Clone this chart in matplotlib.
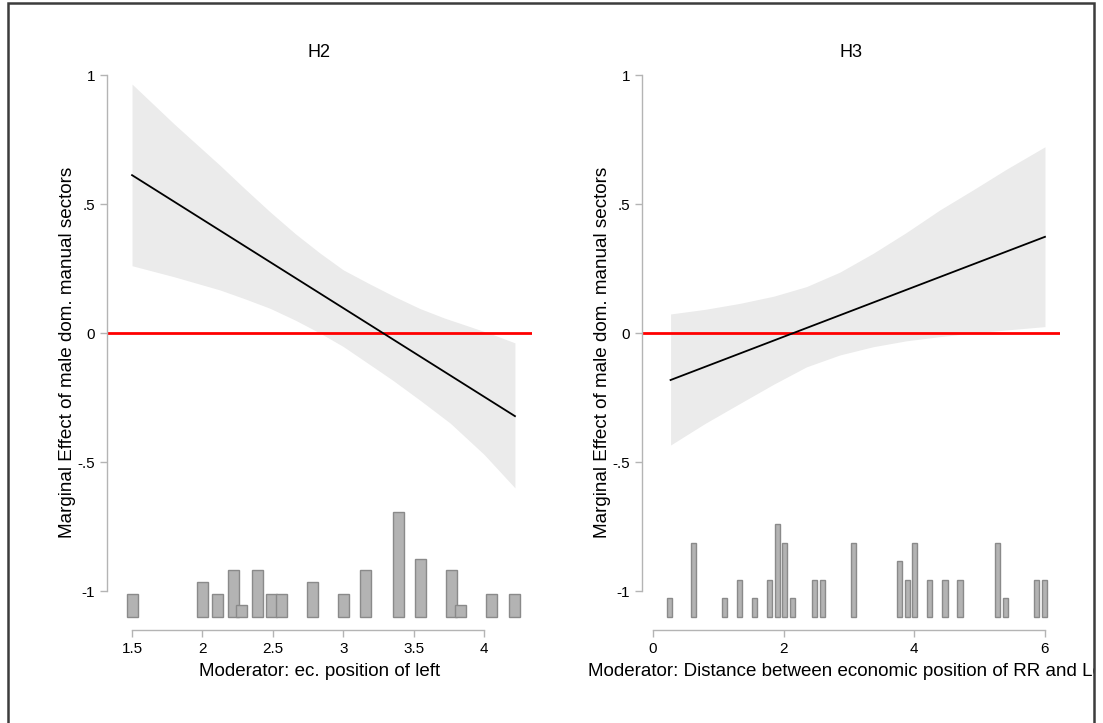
import numpy as np
import matplotlib
matplotlib.use("Agg")
import matplotlib.pyplot as plt
from matplotlib.patches import Rectangle

plt.rcParams['font.family'] = ['Liberation Sans', 'DejaVu Sans']

# ---- H2: moderator = ec. position of left ----
h2_line_x = [1.5, 4.22]
h2_line_y = [0.612, -0.322]
h2_upper_x = [1.5, 1.8, 2.125, 2.3, 2.48, 2.66, 2.835, 3.0, 3.19, 3.37,
              3.545, 3.72, 3.90, 4.06, 4.22]
h2_upper_y = [0.965, 0.810, 0.650, 0.560, 0.470, 0.385, 0.310, 0.245, 0.190,
              0.140, 0.095, 0.058, 0.025, -0.005, -0.038]
h2_lower_x = [1.5, 1.8, 2.125, 2.3, 2.48, 2.66, 2.835, 3.0, 3.143, 3.35,
              3.55, 3.76, 4.0, 4.22]
h2_lower_y = [0.261, 0.218, 0.167, 0.133, 0.096, 0.050, 0.0, -0.052, -0.105,
              -0.182, -0.262, -0.349, -0.470, -0.600]
h2_bar_x = [1.50, 2.00, 2.11, 2.22, 2.28, 2.39, 2.49, 2.56, 2.78, 3.00,
            3.16, 3.39, 3.55, 3.77, 3.83, 4.05, 4.22]
h2_bar_n = [2, 3, 2, 4, 1, 4, 2, 2, 3, 2, 4, 9, 5, 4, 1, 2, 2]
h2_xticks = [1.5, 2, 2.5, 3, 3.5, 4]
h2_xticklabels = ['1.5', '2', '2.5', '3', '3.5', '4']

# ---- H3: moderator = distance RR / Left ----
h3_line_x = [0.27, 6.0]
h3_line_y = [-0.182, 0.373]
h3_upper_x = [0.27, 0.8, 1.33, 1.85, 2.35, 2.86, 3.37, 3.88, 4.39, 4.9, 5.41, 6.0]
h3_upper_y = [0.074, 0.092, 0.115, 0.143, 0.180, 0.236, 0.309, 0.390, 0.477,
              0.555, 0.635, 0.722]
h3_lower_x = [0.27, 0.8, 1.33, 1.85, 2.35, 2.86, 3.37, 3.88, 4.39, 4.9, 5.41, 6.0]
h3_lower_y = [-0.434, -0.350, -0.273, -0.198, -0.131, -0.085, -0.053, -0.030,
              -0.014, 0.0, 0.012, 0.025]
h3_bar_x = [0.26, 0.62, 1.09, 1.32, 1.55, 1.78, 1.90, 2.02, 2.13, 2.48, 2.60,
            3.07, 3.77, 3.89, 4.00, 4.24, 4.47, 4.70, 5.28, 5.40, 5.87, 5.99]
h3_bar_n = [1, 4, 1, 2, 1, 2, 5, 4, 1, 2, 2, 4, 3, 2, 4, 2, 2, 2, 4, 1, 2, 2]
h3_xticks = [0, 2, 4, 6]
h3_xticklabels = ['0', '2', '4', '6']

yticks = [-1, -0.5, 0, 0.5, 1]
yticklabels = ['-1', '-.5', '0', '.5', '1']
ylabel = 'Marginal Effect of male dom. manual sectors'

band_col = '#ebebeb'
axis_col = '#b4b4b4'


def draw_panel(ax, title, xlabel, line_x, line_y, up_x, up_y, lo_x, lo_y,
               bar_x, bar_n, bar_unit, bar_w, xticks, xticklabels, xlim):
    grid = np.linspace(min(up_x[0], lo_x[0]), max(up_x[-1], lo_x[-1]), 300)
    up = np.interp(grid, up_x, up_y)
    lo = np.interp(grid, lo_x, lo_y)
    ax.fill_between(grid, lo, up, color=band_col, lw=0, zorder=1)
    ax.axhline(0, color='#ff0000', lw=2.0, zorder=2)
    ax.plot(line_x, line_y, color='black', lw=1.3, zorder=3)
    heights = np.array(bar_n) * bar_unit
    ax.bar(bar_x, heights, width=bar_w, bottom=-1.1, color='#b3b3b3',
           edgecolor='#8a8a8a', linewidth=1.0, zorder=2)

    ax.set_xlim(*xlim)
    ax.set_ylim(-1.151, 1.0)
    ax.set_title(title, fontsize=13, pad=13)
    ax.set_xlabel(xlabel, fontsize=13.5, labelpad=5)
    ax.set_ylabel(ylabel, fontsize=13.6, labelpad=1)
    ax.set_xticks(xticks)
    ax.set_xticklabels(xticklabels)
    ax.set_yticks(yticks)
    ax.set_yticklabels(yticklabels)
    ax.tick_params(axis='both', colors=axis_col, labelcolor='black',
                   labelsize=11, length=5, width=1)
    for s in ['top', 'right']:
        ax.spines[s].set_visible(False)
    ax.spines['left'].set_bounds(-1, 1)
    ax.spines['bottom'].set_bounds(xticks[0], xticks[-1])
    for s in ['left', 'bottom']:
        ax.spines[s].set_color(axis_col)
        ax.spines[s].set_linewidth(1)


fig = plt.figure(figsize=(11.03, 7.23), dpi=100)
ax1 = fig.add_axes([0.0970, 0.1286, 0.3853, 0.7676])
ax2 = fig.add_axes([0.5820, 0.1286, 0.3790, 0.7676])

draw_panel(ax1, 'H2', 'Moderator: ec. position of left',
           h2_line_x, h2_line_y, h2_upper_x, h2_upper_y, h2_lower_x, h2_lower_y,
           h2_bar_x, h2_bar_n, 0.045, 0.078, h2_xticks, h2_xticklabels,
           (1.322, 4.341))
draw_panel(ax2, 'H3', 'Moderator: Distance between economic position of RR and Left',
           h3_line_x, h3_line_y, h3_upper_x, h3_upper_y, h3_lower_x, h3_lower_y,
           h3_bar_x, h3_bar_n, 0.072, 0.077, h3_xticks, h3_xticklabels,
           (-0.168, 6.23))

# outer frame, right part of the picture is cut off (as in the reference)
fig.patches.append(Rectangle((0.9925, 0), 0.02, 1, transform=fig.transFigure,
                             facecolor='white', edgecolor='none', zorder=10))
fig.patches.append(Rectangle((0.0073, -0.05), 0.9845, 1.0459,
                             transform=fig.transFigure, fill=False,
                             edgecolor='#3c3c3c', linewidth=1.8, zorder=11))

fig.savefig('out.png', dpi=100)
